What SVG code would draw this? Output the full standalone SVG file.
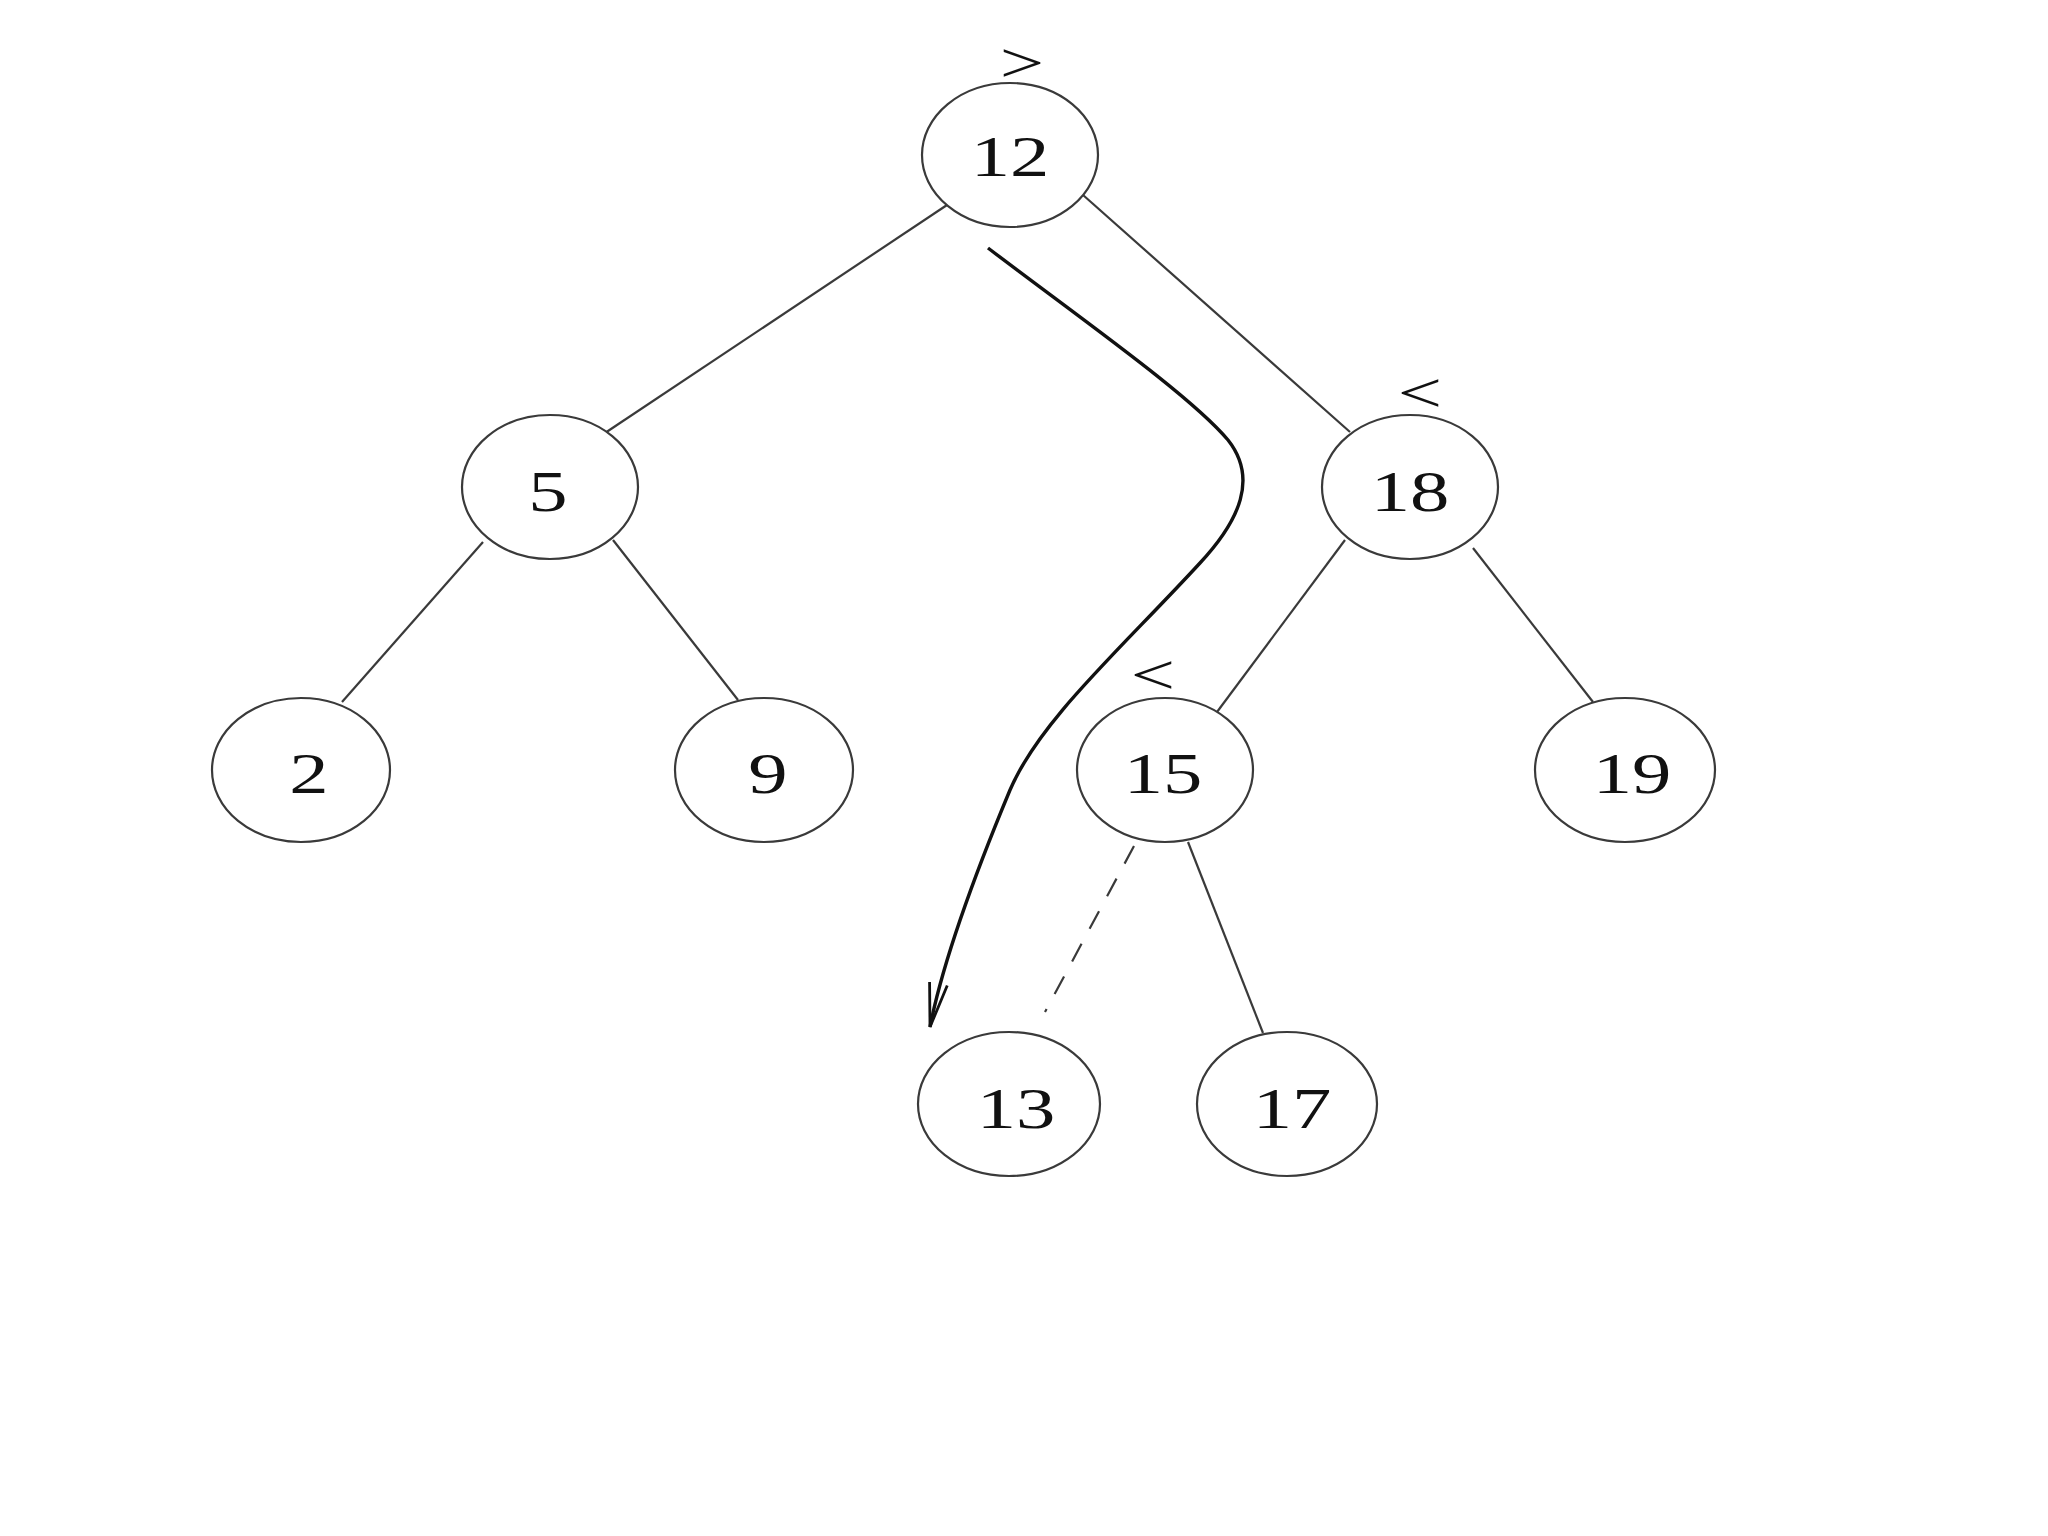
<svg xmlns="http://www.w3.org/2000/svg" width="2048" height="1536" viewBox="0 0 2048 1536">
<style>
.node ellipse{fill:#fff;stroke:#3a3a3a;stroke-width:2.2}
.lbl{font-family:"Liberation Serif","Times New Roman",serif;font-size:57px;fill:#111;text-anchor:middle}
.edge{stroke:#3a3a3a;stroke-width:2.2;fill:none}
.dash{stroke-dasharray:20 17}
.walk{stroke:#111;stroke-width:3.4;fill:none}
</style>
<defs>
<marker id="arr" markerUnits="userSpaceOnUse" markerWidth="60" markerHeight="30" refX="0" refY="0" viewBox="-50 -15 60 30" orient="auto">
<path d="M-44,-9 L0,0 L-44,9" fill="none" stroke="#111" stroke-width="2.8"/>
</marker>
</defs>
<rect width="2048" height="1536" fill="#fff"/>
<g id="connectors">
<line class="edge" x1="947" y1="205" x2="605" y2="433"/>
<line class="edge" x1="1083" y1="195" x2="1350" y2="432"/>
<line class="edge" x1="483" y1="542" x2="342" y2="702"/>
<line class="edge" x1="613" y1="540" x2="738" y2="700"/>
<line class="edge" x1="1345" y1="540" x2="1217" y2="712"/>
<line class="edge" x1="1473" y1="548" x2="1593" y2="702"/>
<line class="edge" x1="1188" y1="842" x2="1263" y2="1033"/>
<line class="edge dash" x1="1134" y1="846" x2="1045" y2="1012"/>
<path class="walk" d="M988,248 C1080,318 1190,395 1228,440 C1258,478 1240,520 1200,563 C1120,650 1040,720 1010,790 C985,850 945,950 930,1027" marker-end="url(#arr)"/>
</g>
<g id="node-12" class="node"><ellipse cx="1010" cy="155" rx="88" ry="72"/><text class="lbl" transform="translate(1010,176) scale(1.38,1)">12</text><text class="lbl" transform="translate(1022,82) scale(1.38,1)">&gt;</text></g>
<g id="node-5" class="node"><ellipse cx="550" cy="487" rx="88" ry="72"/><text class="lbl" transform="translate(548,511) scale(1.38,1)">5</text></g>
<g id="node-18" class="node"><ellipse cx="1410" cy="487" rx="88" ry="72"/><text class="lbl" transform="translate(1420,412) scale(1.38,1)">&lt;</text><text class="lbl" transform="translate(1410,511) scale(1.38,1)">18</text></g>
<g id="node-2" class="node"><ellipse cx="301" cy="770" rx="89" ry="72"/><text class="lbl" transform="translate(309,793) scale(1.38,1)">2</text></g>
<g id="node-9" class="node"><ellipse cx="764" cy="770" rx="89" ry="72"/><text class="lbl" transform="translate(768,793) scale(1.38,1)">9</text></g>
<g id="node-15" class="node"><ellipse cx="1165" cy="770" rx="88" ry="72"/><text class="lbl" transform="translate(1163,793) scale(1.38,1)">15</text><text class="lbl" transform="translate(1153,694) scale(1.38,1)">&lt;</text></g>
<g id="node-19" class="node"><ellipse cx="1625" cy="770" rx="90" ry="72"/><text class="lbl" transform="translate(1632,793) scale(1.38,1)">19</text></g>
<g id="node-13" class="node"><ellipse cx="1009" cy="1104" rx="91" ry="72"/><text class="lbl" transform="translate(1016,1128) scale(1.38,1)">13</text></g>
<g id="node-17" class="node"><ellipse cx="1287" cy="1104" rx="90" ry="72"/><text class="lbl" transform="translate(1292,1128) scale(1.38,1)">17</text></g>
</svg>
